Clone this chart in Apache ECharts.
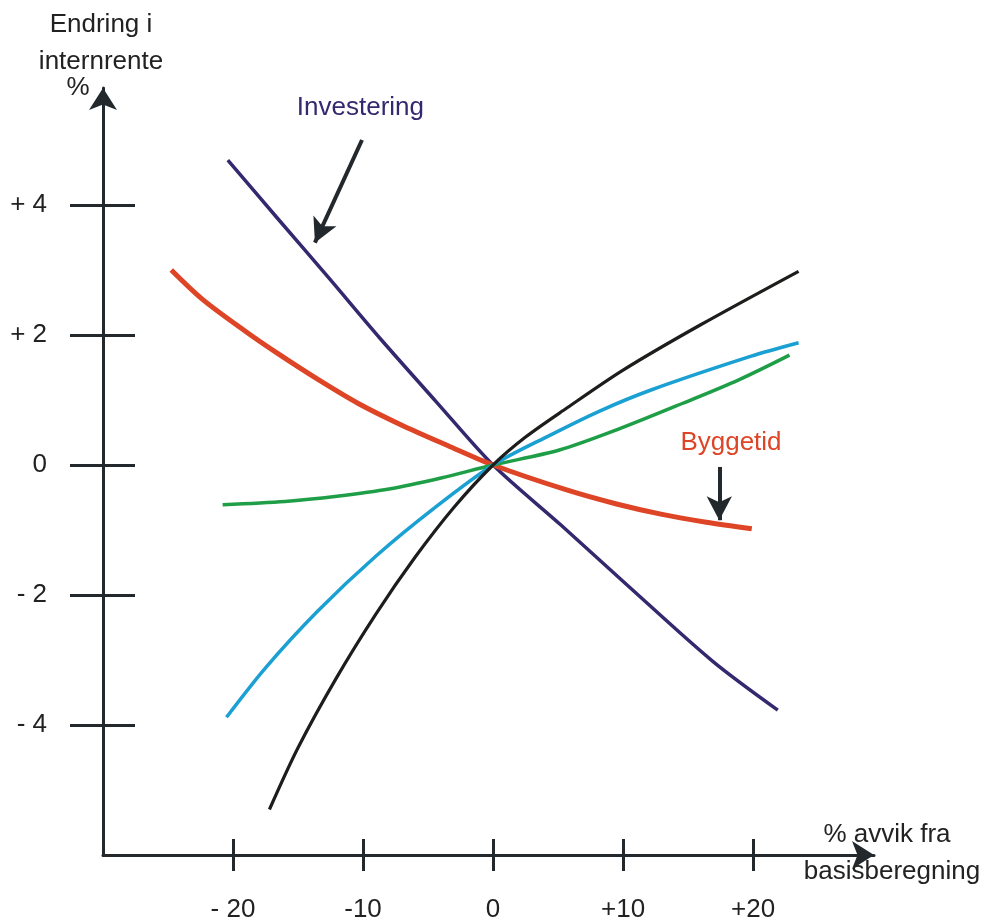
<!DOCTYPE html>
<html>
<head>
<meta charset="utf-8">
<title>Endring i internrente</title>
<script src="https://cdn.jsdelivr.net/npm/echarts@6/dist/echarts.min.js"></script>
<style>
  html, body { margin: 0; padding: 0; background: #ffffff; }
  #chart { width: 986px; height: 923px; }
</style>
</head>
<body>
<div id="chart"></div>
<script>
// Sensitivity curves: change in internal rate of return (%) against
// percentage deviation from the base calculation.
const investering = [[-20.4, 4.69], [-16.6, 3.8], [-12.6, 2.87], [-8.7, 1.95], [-4.4, 0.98], [0, 0], [5.2, -0.92], [10.5, -1.88], [16.9, -3.02], [21.9, -3.77]];
const byggetid = [[-24.75, 3.0], [-22.3, 2.54], [-19.0, 2.05], [-16.6, 1.72], [-13.5, 1.32], [-10.4, 0.95], [-7.1, 0.62], [-3.5, 0.3], [0, 0], [5.6, -0.38], [9.5, -0.6], [13.0, -0.76], [16.4, -0.88], [19.9, -0.98]];
const svart = [[-17.2, -5.3], [-15.0, -4.35], [-12.0, -3.26], [-9.0, -2.29], [-6.0, -1.42], [-3.0, -0.65], [0, 0], [2.5, 0.43], [5.7, 0.88], [10.0, 1.46], [15.9, 2.15], [23.5, 2.98]];
const bla = [[-20.5, -3.88], [-17.5, -3.12], [-13.5, -2.25], [-9.0, -1.4], [-4.5, -0.66], [0, 0], [4.4, 0.46], [8.2, 0.83], [12.1, 1.15], [19.8, 1.67], [23.5, 1.88]];
const gronn = [[-20.8, -0.61], [-16.0, -0.56], [-12.0, -0.48], [-8.0, -0.37], [-4.0, -0.2], [0, 0], [5.1, 0.23], [9.5, 0.54], [14.6, 0.95], [18.9, 1.31], [22.8, 1.69]];

// Axis ticks and their printed labels
const xTicks = [-20, -10, 0, 10, 20];
const xTickLabels = ['- 20', '-10', '0', '+10', '+20'];
const yTicks = [-4, -2, 0, 2, 4];
const yTickLabels = ['- 4', '- 2', '0', '+ 2', '+ 4'];

// Curve labels and their pointer arrows (data coordinates)
const curveLabels = [
  { name: 'Investering', value: [-10.2, 5.49], color: '#34286e' },
  { name: 'Byggetid', value: [18.3, 0.34], color: '#de4526' }
];
const pointers = [
  [[-10.08, 5.0], [-13.7, 3.42]],
  [[17.4, -0.03], [17.4, -0.85]]
];

const AXIS = '#22282c';
const FONT = '"Liberation Sans", Arial, sans-serif';
const X_RANGE = { min: -30, max: 29.3 };
const Y_RANGE = { min: -6, max: 5.8 };
const PLOT = { left: 103, top: 88, width: 771, height: 767, containLabel: false, outerBoundsMode: 'none' };

const chart = echarts.init(document.getElementById('chart'), null, { renderer: 'canvas' });

function lineSeries(name, data, color, width) {
  return {
    name, type: 'line', data, smooth: 0.3, showSymbol: false, silent: true,
    lineStyle: { color, width, cap: 'butt', join: 'round' }
  };
}

function titleText(text, x, y) {
  return { type: 'text', style: { text, x, y, align: 'center', verticalAlign: 'middle', font: '26px ' + FONT, fill: '#222222' } };
}

const tickStyle = { color: AXIS, width: 3 };

const option = {
  animation: false,
  backgroundColor: '#ffffff',
  // second grid shares the plot rectangle and carries the inner half of each tick cross
  grid: [Object.assign({}, PLOT), Object.assign({}, PLOT)],
  xAxis: [
    Object.assign({
      type: 'value', gridIndex: 0, position: 'bottom',
      splitLine: { show: false },
      axisLine: {
        onZero: false, symbol: ['none', 'arrow'], symbolSize: [21, 22],
        lineStyle: { color: AXIS, width: 3 }
      },
      axisTick: { show: true, customValues: xTicks, length: 16, lineStyle: tickStyle },
      axisLabel: {
        customValues: xTicks, margin: 42, color: '#222222', fontSize: 26, fontFamily: FONT,
        formatter: v => xTickLabels[xTicks.indexOf(v)]
      }
    }, X_RANGE),
    Object.assign({
      type: 'value', gridIndex: 1, position: 'bottom',
      splitLine: { show: false }, axisLine: { show: false, onZero: false }, axisLabel: { show: false },
      axisTick: { show: true, inside: true, customValues: xTicks, length: 16, lineStyle: tickStyle }
    }, X_RANGE)
  ],
  yAxis: [
    Object.assign({
      type: 'value', gridIndex: 0, position: 'left',
      splitLine: { show: false },
      axisLine: {
        onZero: false, symbol: ['none', 'arrow'], symbolSize: [21, 22],
        lineStyle: { color: AXIS, width: 3 }
      },
      axisTick: { show: true, customValues: yTicks, length: 33, lineStyle: tickStyle },
      axisLabel: {
        customValues: yTicks, margin: 56, color: '#222222', fontSize: 26, fontFamily: FONT,
        formatter: v => yTickLabels[yTicks.indexOf(v)]
      }
    }, Y_RANGE),
    Object.assign({
      type: 'value', gridIndex: 1, position: 'left',
      splitLine: { show: false }, axisLine: { show: false, onZero: false }, axisLabel: { show: false },
      axisTick: { show: true, inside: true, customValues: yTicks, length: 32, lineStyle: tickStyle }
    }, Y_RANGE)
  ],
  graphic: [
    titleText('Endring i', 101, 25),
    titleText('internrente', 101, 62),
    titleText('%', 78, 88),
    titleText('% avvik fra', 887, 835),
    titleText('basisberegning', 892, 872)
  ],
  series: [
    lineSeries('Investering', investering, '#34286e', 3.5),
    lineSeries('Byggetid', byggetid, '#de4526', 5),
    lineSeries('Grønn', gronn, '#1f9e48', 3.5),
    lineSeries('Blå', bla, '#1aa0d2', 3.5),
    lineSeries('Svart', svart, '#1d1d1b', 3.2),
    {
      type: 'scatter', silent: true, symbolSize: 0,
      itemStyle: { opacity: 1 },
      data: curveLabels.map(d => ({
        name: d.name, value: d.value,
        label: { show: true, position: 'inside', formatter: '{b}', color: d.color, fontSize: 26, fontFamily: FONT, opacity: 1 }
      })),
      markLine: {
        silent: true, symbol: ['none', 'arrow'], symbolSize: [19, 24],
        label: { show: false },
        lineStyle: { color: AXIS, width: 4, type: 'solid', opacity: 1 },
        emphasis: { disabled: true },
        data: pointers.map(p => [{ coord: p[0] }, { coord: p[1] }])
      }
    }
  ]
};

chart.setOption(option);
</script>
</body>
</html>
